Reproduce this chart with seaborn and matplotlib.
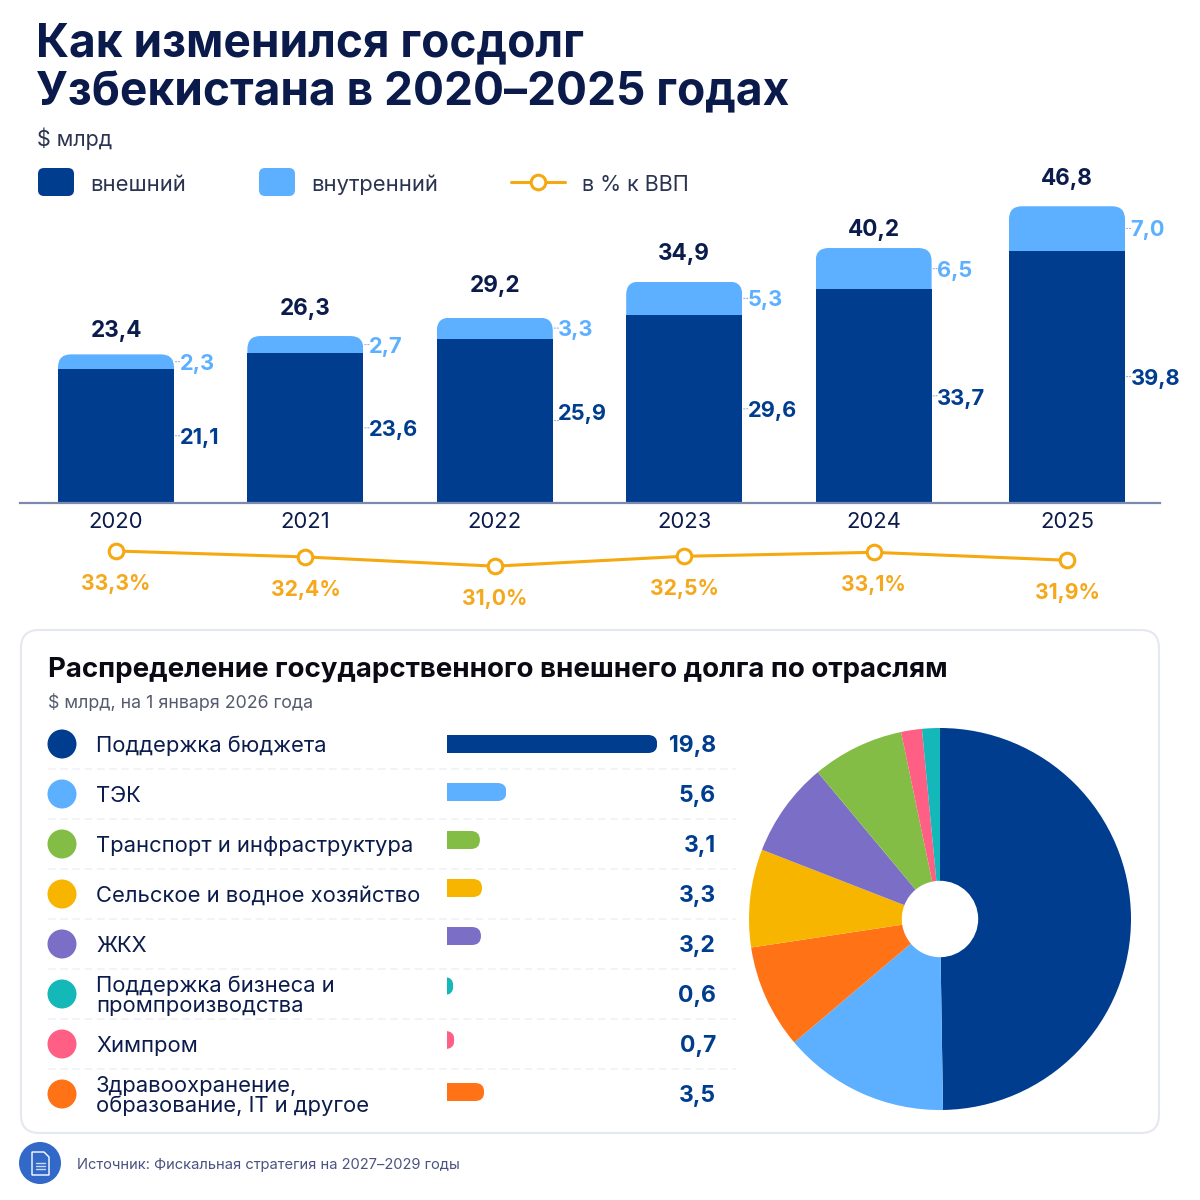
# plot.py
# Uzbekistan state debt 2020-2025: stacked bars, GDP line, sector bars and pie

import numpy as np
import matplotlib
matplotlib.use('Agg')
import matplotlib.pyplot as plt
from matplotlib.patches import FancyBboxPatch, Circle, Polygon
from matplotlib.transforms import IdentityTransform
import seaborn as sns

# ── Data ──────────────────────────────────────────────
YEARS    = ['2020', '2021', '2022', '2023', '2024', '2025']
external = [21.1, 23.6, 25.9, 29.6, 33.7, 39.8]
internal = [2.3, 2.7, 3.3, 5.3, 6.5, 7.0]
totals   = [23.4, 26.3, 29.2, 34.9, 40.2, 46.8]
gdp_pct  = [33.3, 32.4, 31.0, 32.5, 33.1, 31.9]

sectors = ['Поддержка бюджета', 'ТЭК', 'Транспорт и инфраструктура',
           'Сельское и водное хозяйство', 'ЖКХ',
           'Поддержка бизнеса и\nпромпроизводства', 'Химпром',
           'Здравоохранение,\nобразование, IT и другое']
sector_vals = [19.8, 5.6, 3.1, 3.3, 3.2, 0.6, 0.7, 3.5]

# ── Colours ───────────────────────────────────────────
DARK, LIGHT = '#003D8F', '#5CB0FF'
ORANGE_LINE = '#F5A80F'
NAVY  = '#0B1B4B'
sector_colors = [DARK, LIGHT, '#83BD45', '#F7B500', '#7B6EC6', '#14B8B8', '#FF5F85', '#FF7316']
pie_order = [0, 1, 7, 3, 4, 2, 6, 5]   # clockwise from the top

# ── Layout (pixels) ───────────────────────────────────
W = 1200
X0, STEP    = 116, 189.4      # first bar centre, spacing
LAST_NUDGE  = 4 / STEP        # last bar sits a bit further right
BASE_Y      = 502.5
PX_PER_BN   = 6.33
TOTAL_GAP   = [23, 27, 32, 28, 18, 27]
EXT_NUDGE   = [2, 2, -7, 2, 3, 2]
INT_NUDGE   = 2
BAR_NUDGE   = [0, -2, -4, -6, -8, -8, -4, -2]

def fs(px):
    return px * 0.72

def axes_px(x0, y0, x1, y1, **kw):
    return fig.add_axes([x0 / W, 1 - y1 / W, (x1 - x0) / W, (y1 - y0) / W], **kw)

def round_bar(patch, r, side):
    # clip a bar to a rounded box, only the chosen side shows round corners
    bb = patch.get_window_extent()
    x, y, w, h = bb.x0, bb.y0, bb.width, bb.height
    if side == 'top':
        y -= 2 * r
        h += 2 * r
    else:
        x -= 2 * r
        w += 2 * r
    box = FancyBboxPatch((x, y), w, h, boxstyle=f'round,pad=0,rounding_size={r}')
    patch.set_clip_path(box.get_path(), IdentityTransform())

sns.set_theme(style='white')
plt.rcParams['font.family'] = ['Inter', 'DejaVu Sans']

fig = plt.figure(figsize=(12, 12), dpi=100, facecolor='white')

# ── Background layer in pixel coordinates ─────────────
bg = fig.add_axes([0, 0, 1, 1], zorder=0)
bg.set_xlim(0, W)
bg.set_ylim(W, 0)
bg.set_axis_off()

bg.text(36.5, 44, 'Как изменился госдолг', fontsize=fs(46), fontweight='bold', color='#0A1A4A', va='center')
bg.text(36.5, 93, 'Узбекистана в 2020–2025 годах', fontsize=fs(46), fontweight='bold', color='#0A1A4A', va='center')
bg.text(37, 139, '$ млрд', fontsize=fs(21.5), color='#2A3350', va='center')

# legend
for x, col, lab, tx in [(38, DARK, 'внешний', 90), (259, LIGHT, 'внутренний', 311)]:
    bg.add_patch(FancyBboxPatch((x, 168), 36, 28, boxstyle='round,pad=0,rounding_size=6',
                                fc=col, ec='none'))
    bg.text(tx, 185, lab, fontsize=fs(22), color='#2A3350', va='center')
bg.plot([511, 565], [182, 182], color=ORANGE_LINE, lw=2.2, solid_capstyle='round')
bg.plot([538], [182], 'o', ms=10.5, mfc='white', mec=ORANGE_LINE, mew=2.2)
bg.text(582, 185, 'в % к ВВП', fontsize=fs(21.5), color='#2A3350', va='center')

# card
bg.add_patch(FancyBboxPatch((21, 630), 1138, 503, boxstyle='round,pad=0,rounding_size=18',
                            fc='white', ec='#E5E8F0', lw=1.5))
bg.text(48, 670, 'Распределение государственного внешнего долга по отраслям',
        fontsize=fs(27.7), fontweight='bold', color='#0A0A14', va='center')
bg.text(48, 703, '$ млрд, на 1 января 2026 года', fontsize=fs(17.8), color='#555B6E', va='center')

# rows of the sector list
for i, (name, col) in enumerate(zip(sectors, sector_colors)):
    yc = 744 + 50 * i
    bg.add_patch(Circle((62, yc), 14.5, fc=col, ec='none'))
    bg.text(96, yc + 2, name, fontsize=fs(22), color=NAVY, va='center', linespacing=1.03)
    if i < len(sectors) - 1:
        bg.plot([48, 736], [yc + 25, yc + 25], color='#EEF0F5', lw=1.1, ls=(0, (5, 3)))

# footer
bg.add_patch(Circle((40, 1163), 21, fc='#3268C8', ec='none'))
bg.add_patch(Polygon([(32, 1152), (44, 1152), (49, 1157), (49, 1175), (32, 1175)],
                     closed=True, fc='none', ec='white', lw=1))
for yy in (1163, 1166, 1169):
    bg.plot([36, 45], [yy, yy], color='#C9D8F5', lw=1)
bg.text(77, 1165, 'Источник: Фискальная стратегия на 2027–2029 годы',
        fontsize=fs(14.7), color='#4B5380', va='center')

# ── Stacked bars ──────────────────────────────────────
slots = np.arange(len(YEARS), dtype=float)
slots[-1] += LAST_NUDGE
xlim = ((20 - X0) / STEP, (1160 - X0) / STEP)

ax = axes_px(20, 190, 1160, BASE_Y, zorder=2)
ax.patch.set_alpha(0)
sns.barplot(x=slots, y=external, native_scale=True, color=DARK, width=116 / STEP,
            saturation=1, ax=ax, linewidth=0)
n_ext = len(ax.patches)
sns.barplot(x=slots, y=internal, bottom=external, native_scale=True, color=LIGHT,
            width=116 / STEP, saturation=1, ax=ax, linewidth=0)
ax.set_xlim(*xlim)
ax.set_ylim(0, (BASE_Y - 190) / PX_PER_BN)
ax.set_xticks(slots, YEARS)
ax.set_yticks([])
ax.set_xlabel('')
ax.set_ylabel('')
ax.tick_params(axis='x', length=0, pad=6.5, labelsize=fs(22), labelcolor=NAVY)
sns.despine(ax=ax, left=True)
ax.spines['bottom'].set_color('#7B8AAE')
ax.spines['bottom'].set_linewidth(1.6)

half = 58 / STEP
for i, s in enumerate(slots):
    lab = f'{totals[i]:.1f}'.replace('.', ',')
    ax.annotate(lab, (s, external[i] + internal[i]), xytext=(0, TOTAL_GAP[i] * 0.72),
                textcoords='offset points', ha='center', va='center',
                fontsize=fs(22.5), fontweight='bold', color=NAVY)
    for val, mid, col, nudge in [(external[i], external[i] / 2, DARK, EXT_NUDGE[i]),
                                 (internal[i], external[i] + internal[i] / 2, LIGHT, INT_NUDGE)]:
        ax.annotate(f'{val:.1f}'.replace('.', ','), (s + half, mid),
                    xytext=(4, -nudge * 0.72), textcoords='offset points',
                    ha='left', va='center', fontsize=fs(21.8), fontweight='bold', color=col)
        ax.annotate('', (s + half, mid), xytext=(4, 0), textcoords='offset points',
                    arrowprops=dict(arrowstyle='-', color='#9DB0D0', lw=0.8, ls=':',
                                    shrinkA=0, shrinkB=0))

# ── GDP line ──────────────────────────────────────────
lax = axes_px(20, 535, 1160, 610, zorder=2)
lax.patch.set_alpha(0)
sns.lineplot(x=slots, y=gdp_pct, color=ORANGE_LINE, lw=2.2, marker='o', ms=10.5,
             mfc='white', mec=ORANGE_LINE, mew=2.2, ax=lax, clip_on=False)
lax.set_xlim(*xlim)
# 6.6 px per percentage point, 33.3 % sits at y = 551
lax.set_ylim(33.3 - (610 - 551) / 6.6, 33.3 + (551 - 535) / 6.6)
lax.set_axis_off()
for s, v in zip(slots, gdp_pct):
    lax.annotate(f'{v:.1f}%'.replace('.', ','), (s, v), xytext=(0, -33 * 0.72),
                 textcoords='offset points', ha='center', va='center',
                 fontsize=fs(21.2), fontweight='bold', color='#F5A81C')

# ── Sector bars ───────────────────────────────────────
sax = axes_px(447, 719, 733, 1119, zorder=2)
sax.patch.set_alpha(0)
sns.barplot(y=sectors, x=sector_vals, hue=sectors, palette=sector_colors, dodge=False,
            legend=False, width=18 / 50, saturation=1, linewidth=0, ax=sax)
sax.set_xlim(0, 286 / 10.62)
sax.set_ylim(7.5, -0.5)
sax.set_axis_off()
bars = sorted([p for p in sax.patches if p.get_width() > 0], key=lambda p: p.get_y())
for p, nudge in zip(bars, BAR_NUDGE):
    p.set_y(p.get_y() + nudge / 50)
for i, v in enumerate(sector_vals):
    bg.text(716, 746 + 50 * i, f'{v:.1f}'.replace('.', ','), fontsize=fs(23), fontweight='bold',
            color=DARK, ha='right', va='center')

# ── Pie ───────────────────────────────────────────────
pax = axes_px(749, 728, 1131, 1110, zorder=2)
pax.pie([sector_vals[i] for i in pie_order], colors=[sector_colors[i] for i in pie_order],
        startangle=90, counterclock=False, radius=1, wedgeprops=dict(width=0.8, linewidth=0))
pax.set_xlim(-1, 1)
pax.set_ylim(-1, 1)

# ── Rounded bar ends, needs the final transforms ──────
fig.canvas.draw()
for p in ax.patches[n_ext:]:
    round_bar(p, 13, 'top')
for p in bars:
    round_bar(p, 9, 'right')

fig.savefig('out.png', dpi=100, facecolor='white')
